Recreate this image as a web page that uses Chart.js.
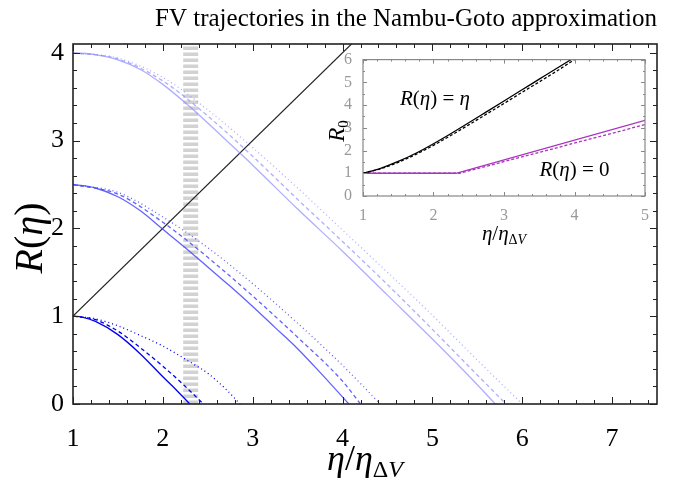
<!DOCTYPE html>
<html>
<head>
<meta charset="utf-8">
<script src="https://cdn.jsdelivr.net/npm/chart.js@4/dist/chart.umd.min.js"></script>
<style>
html, body { margin: 0; padding: 0; background: #fff; }
#wrap { position: relative; width: 673px; height: 487px; }
#main { position: absolute; left: 0; top: 0; }
#inset { position: absolute; left: 325px; top: 47px; }
</style>
</head>
<body>
<div id="wrap">
<canvas id="main" width="673" height="487"></canvas>
<canvas id="inset" width="330" height="200"></canvas>
</div>
<script>
// main plot: R(eta) for R0 = 1, 2.5, 4 (solid / dashed / dotted)
const eta_a_solid = [1, 1.1, 1.25, 1.5, 1.75, 2.0, 2.15, 2.3];
const R_a_solid   = [1, 0.99, 0.94, 0.79, 0.57, 0.31, 0.16, 0];
const eta_a_dash  = [1, 1.25, 1.5, 1.75, 2.0, 2.25, 2.45];
const R_a_dash    = [1, 0.96, 0.83, 0.64, 0.43, 0.2, 0];
const eta_a_dot   = [1, 1.25, 1.5, 1.75, 2.0, 2.3, 2.5, 2.7, 2.86];
const R_a_dot     = [1, 0.97, 0.89, 0.78, 0.66, 0.48, 0.35, 0.17, 0];

const eta_b_solid = [1, 1.25, 1.5, 1.75, 2.0, 2.25, 2.5, 2.75, 3.0, 3.25, 3.5, 3.75, 4.07];
const R_b_solid   = [2.5, 2.46, 2.36, 2.2, 1.99, 1.78, 1.56, 1.34, 1.11, 0.87, 0.63, 0.36, 0];
const eta_b_dash  = [1, 1.5, 2.0, 2.5, 3.0, 3.5, 4.0, 4.2];
const R_b_dash    = [2.5, 2.39, 2.07, 1.67, 1.23, 0.76, 0.26, 0];
const eta_b_dot   = [1, 1.5, 2.0, 2.5, 3.0, 3.5, 4.0, 4.42];
const R_b_dot     = [2.5, 2.41, 2.13, 1.78, 1.37, 0.92, 0.44, 0];

const eta_c_solid = [1, 1.25, 1.5, 1.75, 2.0, 2.25, 2.5, 2.75, 3.0, 3.5, 4.0, 4.5, 5.0, 5.5, 5.7];
const R_c_solid   = [4, 3.98, 3.92, 3.81, 3.64, 3.43, 3.2, 2.96, 2.72, 2.22, 1.74, 1.24, 0.74, 0.22, 0];
const eta_c_dash  = [1, 1.5, 2.0, 2.5, 3.0, 3.5, 4.0, 4.5, 5.0, 5.5, 5.82];
const R_c_dash    = [4, 3.93, 3.68, 3.28, 2.82, 2.33, 1.85, 1.36, 0.85, 0.33, 0];
const eta_c_dot   = [1, 1.5, 2.0, 2.5, 3.0, 3.5, 4.0, 4.5, 5.0, 5.5, 6.0];
const R_c_dot     = [4, 3.94, 3.72, 3.35, 2.92, 2.46, 1.98, 1.5, 1.01, 0.5, 0];

const eta_light = [1, 4.5];
const R_light   = [1, 4.5];
const eta_band  = [2.31, 2.31];
const R_band    = [0, 4.1];

const x_ticks = [1, 2, 3, 4, 5, 6, 7];
const y_ticks = [0, 1, 2, 3, 4];

// inset: R0 vs eta/eta_dV
const eta_in_eq_solid = [1, 1.25, 1.5, 1.75, 2.0, 2.25, 2.5, 2.75, 3.0, 3.25, 3.5, 3.75, 3.95];
const R0_in_eq_solid  = [1, 1.22, 1.52, 1.88, 2.3, 2.75, 3.22, 3.7, 4.18, 4.66, 5.14, 5.62, 6.0];
const eta_in_eq_dash  = [1, 1.25, 1.5, 1.75, 2.0, 2.25, 2.5, 2.75, 3.0, 3.25, 3.5, 3.75, 4.0];
const R0_in_eq_dash   = [1, 1.2, 1.48, 1.83, 2.23, 2.67, 3.13, 3.6, 4.07, 4.55, 5.02, 5.5, 6.0];
const eta_in_zero_solid = [1, 2.32, 5];
const R0_in_zero_solid  = [1, 1, 3.33];
const eta_in_zero_dash  = [1, 2.37, 5];
const R0_in_zero_dash   = [1, 1, 3.14];

const SERIF = "'Liberation Serif', 'DejaVu Serif', serif";
const pts = (xs, ys) => xs.map((x, i) => ({ x: x, y: ys[i] }));

function curve(xs, ys, color, dash, smooth = true) {
    return {
        data: pts(xs, ys),
        showLine: true,
        borderColor: color,
        borderWidth: 1.3,
        borderDash: dash,
        pointRadius: 0,
        cubicInterpolationMode: smooth ? "monotone" : "default",
        tension: 0,
    };
}

const SOLID = [];
const DASH = [4, 3];
const DOT = [1, 3];

// inward ticks on all four sides + frame
const frameTicks = {
    id: "frameTicks",
    afterDatasetsDraw(chart, args, o) {
        const { ctx, chartArea: a, scales: { x, y } } = chart;
        ctx.save();
        ctx.strokeStyle = o.color;
        ctx.lineWidth = o.width;
        ctx.strokeRect(a.left, a.top, a.right - a.left, a.bottom - a.top);
        ctx.lineWidth = 1;
        ctx.beginPath();
        for (let v = x.min; v <= x.max + 1e-9; v += o.xMinor) {
            const major = Math.abs(v / o.xMajor - Math.round(v / o.xMajor)) < 1e-6;
            const len = major ? o.major : o.minor;
            const px = Math.round(x.getPixelForValue(v)) + 0.5;
            ctx.moveTo(px, a.bottom); ctx.lineTo(px, a.bottom - len);
            ctx.moveTo(px, a.top); ctx.lineTo(px, a.top + len);
        }
        for (let v = y.min; v <= y.max + 1e-9; v += o.yMinor) {
            const major = Math.abs(v / o.yMajor - Math.round(v / o.yMajor)) < 1e-6;
            const len = major ? o.major : o.minor;
            const py = Math.round(y.getPixelForValue(v)) + 0.5;
            ctx.moveTo(a.left, py); ctx.lineTo(a.left + len, py);
            ctx.moveTo(a.right, py); ctx.lineTo(a.right - len, py);
        }
        ctx.stroke();
        ctx.restore();
    }
};

function mathText(ctx, parts, cx, cy, rotate) {
    ctx.save();
    ctx.translate(cx, cy);
    if (rotate) ctx.rotate(-Math.PI / 2);
    ctx.textBaseline = "alphabetic";
    let w = 0;
    parts.forEach(p => { ctx.font = p.f; p.w = ctx.measureText(p.t).width; w += p.w; });
    let x = -w / 2;
    parts.forEach(p => { ctx.font = p.f; ctx.fillText(p.t, x, p.dy || 0); x += p.w; });
    ctx.restore();
}

const mainLabels = {
    id: "mainLabels",
    afterDraw(chart) {
        const ctx = chart.ctx;
        const a = chart.chartArea;
        ctx.fillStyle = "#000";
        const it = "italic 36px " + SERIF, up = "36px " + SERIF;
        mathText(ctx, [
            { t: "\u03B7", f: it }, { t: "/", f: up }, { t: "\u03B7", f: it },
            { t: "\u0394", f: "24px " + SERIF, dy: 7 }, { t: "V", f: "italic 24px " + SERIF, dy: 7 }
        ], (a.left + a.right) / 2, 470);
        const it2 = "italic 40px " + SERIF, up2 = "40px " + SERIF;
        mathText(ctx, [
            { t: "R", f: it2 }, { t: "(", f: up2 }, { t: "\u03B7", f: it2 }, { t: ")", f: up2 }
        ], 42, 238, true);
    }
};

const insetLabels = {
    id: "insetLabels",
    afterDraw(chart) {
        const { ctx, chartArea: a, scales: { x, y } } = chart;
        ctx.fillStyle = "#000";
        const it = "italic 21px " + SERIF, up = "21px " + SERIF;
        mathText(ctx, [
            { t: "\u03B7", f: it }, { t: "/", f: up }, { t: "\u03B7", f: it },
            { t: "\u0394", f: "14px " + SERIF, dy: 4 }, { t: "V", f: "italic 14px " + SERIF, dy: 4 }
        ], (a.left + a.right) / 2, 193);
        mathText(ctx, [
            { t: "R", f: "italic 23px " + SERIF }, { t: "0", f: "15px " + SERIF, dy: 4 }
        ], 19, 84, true);
        mathText(ctx, [
            { t: "R", f: it }, { t: "(", f: up }, { t: "\u03B7", f: it }, { t: ")", f: up },
            { t: " = ", f: up }, { t: "\u03B7", f: it }
        ], x.getPixelForValue(2.02), y.getPixelForValue(4.0));
        mathText(ctx, [
            { t: "R", f: it }, { t: "(", f: up }, { t: "\u03B7", f: it }, { t: ")", f: up },
            { t: " = 0", f: up }
        ], x.getPixelForValue(4.0), y.getPixelForValue(0.9));
    }
};

const blue1 = "rgba(0, 0, 240, 1)";
const blue2 = "rgba(70, 70, 255, 0.85)";
const blue3 = "rgba(140, 140, 255, 0.7)";

new Chart(document.getElementById("main"), {
    type: "scatter",
    data: {
        datasets: [
            curve(eta_a_solid, R_a_solid, blue1, SOLID),
            curve(eta_a_dash, R_a_dash, blue1, DASH),
            curve(eta_a_dot, R_a_dot, blue1, DOT),
            curve(eta_b_solid, R_b_solid, blue2, SOLID),
            curve(eta_b_dash, R_b_dash, blue2, DASH),
            curve(eta_b_dot, R_b_dot, blue2, DOT),
            curve(eta_c_solid, R_c_solid, blue3, SOLID),
            curve(eta_c_dash, R_c_dash, blue3, DASH),
            curve(eta_c_dot, R_c_dot, blue3, DOT),
            {
                data: pts(eta_light, R_light),
                showLine: true,
                borderColor: "#222",
                borderWidth: 1.2,
                pointRadius: 0,
            },
            {
                data: pts(eta_band, R_band),
                showLine: true,
                borderColor: "rgba(210, 210, 210, 1)",
                borderWidth: 15,
                borderDash: [3.5, 2.5],
                borderCapStyle: "butt",
                pointRadius: 0,
            },
        ]
    },
    options: {
        responsive: false,
        animation: false,
        layout: { padding: { right: 16 } },
        plugins: {
            legend: { display: false },
            tooltip: { enabled: false },
            title: {
                display: true,
                text: "FV trajectories in the Nambu-Goto approximation",
                align: "end",
                color: "#000",
                font: { family: SERIF, size: 25, weight: "normal" },
                padding: { top: 4, bottom: 10 }
            },
            frameTicks: { color: "#222", width: 1.6, xMajor: 1, xMinor: 0.2, yMajor: 1, yMinor: 0.2, major: 7, minor: 4 }
        },
        scales: {
            x: {
                type: "linear",
                min: 1,
                max: 7.5,
                afterFit(s) { s.height = 83; },
                afterBuildTicks(s) { s.ticks = x_ticks.map(v => ({ value: v })); },
                ticks: { padding: 12, color: "#000", font: { family: SERIF, size: 26 } },
                grid: { display: false },
                border: { display: false }
            },
            y: {
                min: 0,
                max: 4.1,
                afterFit(s) { s.width = 73; },
                afterBuildTicks(s) { s.ticks = y_ticks.map(v => ({ value: v })); },
                ticks: { padding: 1, color: "#000", font: { family: SERIF, size: 26 } },
                grid: { display: false },
                border: { display: false }
            }
        }
    },
    plugins: [frameTicks, mainLabels]
});

const purple = "rgba(170, 50, 190, 1)";

new Chart(document.getElementById("inset"), {
    type: "scatter",
    data: {
        datasets: [
            curve(eta_in_eq_solid, R0_in_eq_solid, "#000", SOLID),
            curve(eta_in_eq_dash, R0_in_eq_dash, "#000", [3, 2]),
            curve(eta_in_zero_solid, R0_in_zero_solid, purple, SOLID, false),
            curve(eta_in_zero_dash, R0_in_zero_dash, purple, [3, 2], false),
        ]
    },
    options: {
        responsive: false,
        animation: false,
        layout: { padding: { right: 10, top: 9 } },
        plugins: {
            legend: { display: false },
            tooltip: { enabled: false },
            frameTicks: { color: "#888", width: 1.2, xMajor: 1, xMinor: 0.2, yMajor: 1, yMinor: 0.5, major: 4, minor: 2 }
        },
        scales: {
            x: {
                type: "linear",
                min: 1,
                max: 5,
                afterFit(s) { s.height = 51; },
                ticks: { stepSize: 1, padding: 2, color: "#999", font: { family: SERIF, size: 16 } },
                grid: { display: false },
                border: { display: false }
            },
            y: {
                min: 0,
                max: 6,
                afterFit(s) { s.width = 38; },
                ticks: { stepSize: 1, padding: 3, color: "#999", font: { family: SERIF, size: 16 } },
                grid: { display: false },
                border: { display: false }
            }
        }
    },
    plugins: [frameTicks, insetLabels]
});
</script>
</body>
</html>
